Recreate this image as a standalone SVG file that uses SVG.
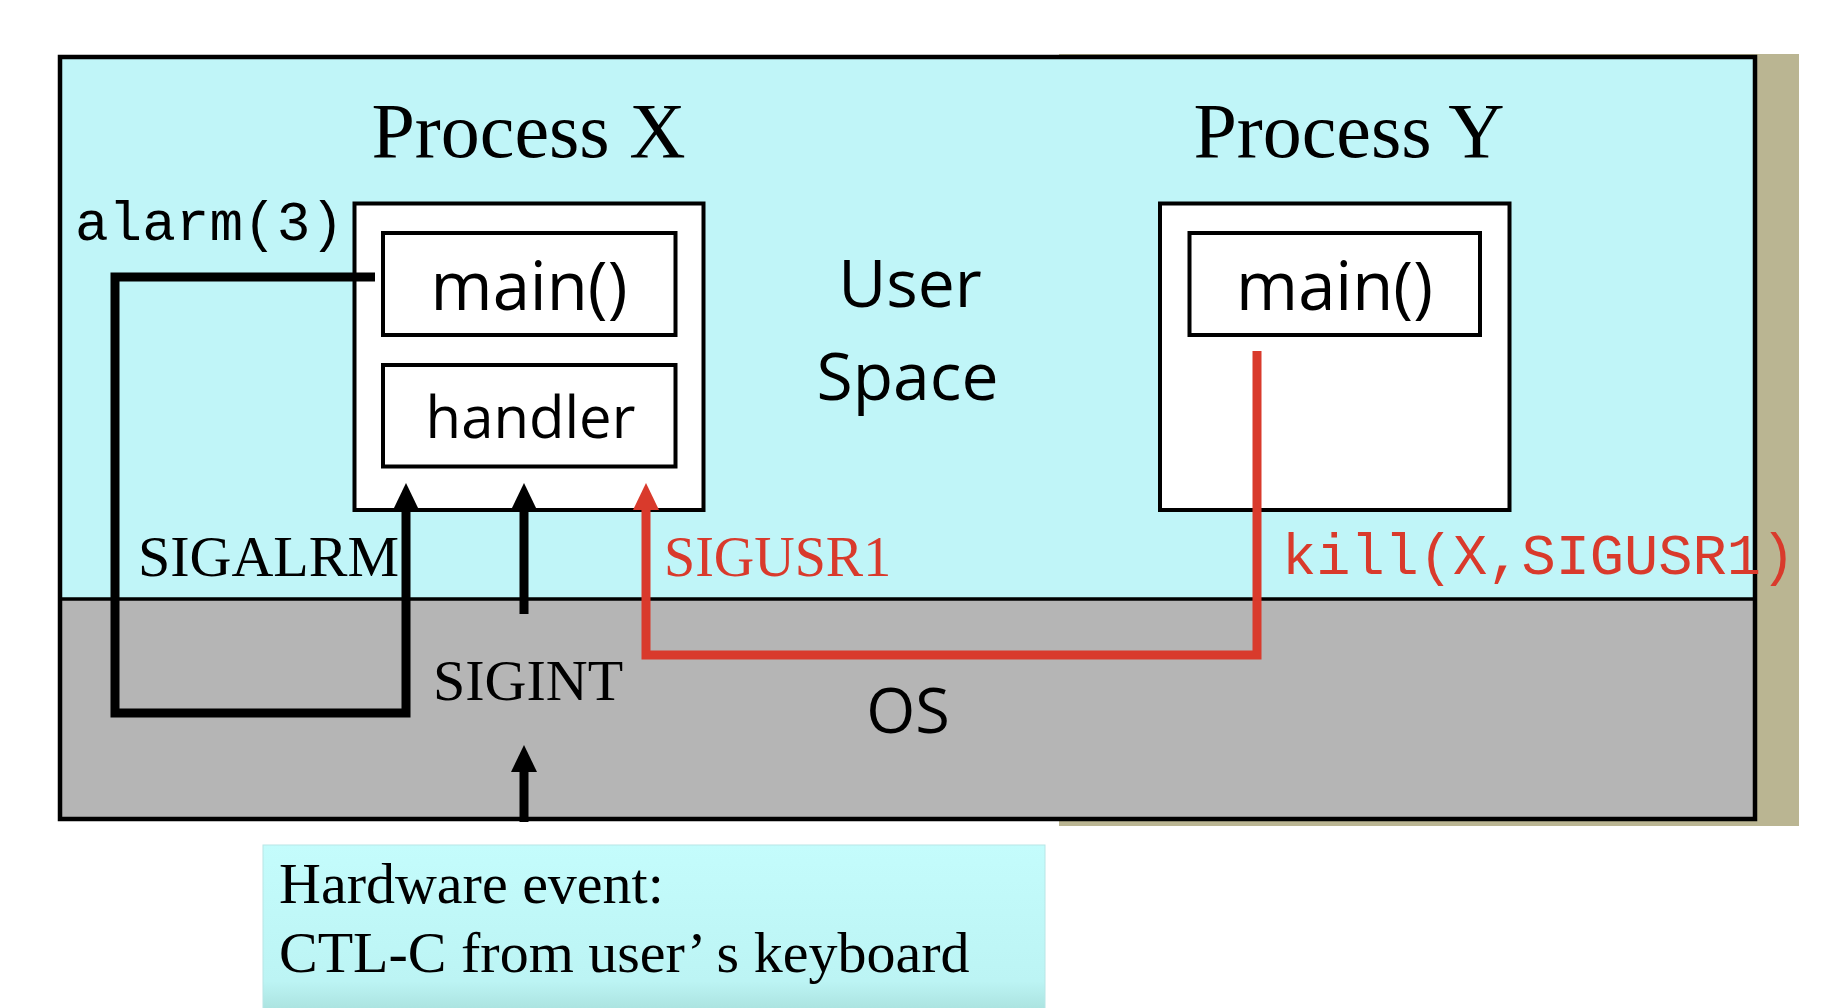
<svg xmlns="http://www.w3.org/2000/svg" width="1848" height="1008" viewBox="0 0 1848 1008">
<style>
.serif{font-family:"Liberation Serif","Times New Roman",serif;fill:#000}
.sans{font-family:"Open Sans","Noto Sans","Liberation Sans",sans-serif;fill:#000}
.mono{font-family:"Liberation Mono","Courier New",monospace}
.box{fill:#fff;stroke:#000;stroke-width:4}
.red{fill:#d93a2c}
.wire{fill:none;stroke:#000;stroke-width:9}
.wire-red{fill:none;stroke:#d93a2c;stroke-width:9}
</style>
<defs>
<marker id="ah" markerUnits="userSpaceOnUse" markerWidth="28" markerHeight="28" refX="0" refY="13" orient="auto" viewBox="0 0 28 26">
<path d="M0,0 L27,13 L0,26 z" fill="#000"/>
</marker>
<marker id="ahr" markerUnits="userSpaceOnUse" markerWidth="28" markerHeight="28" refX="0" refY="13" orient="auto" viewBox="0 0 28 26">
<path d="M0,0 L27,13 L0,26 z" fill="#d93a2c"/>
</marker>
<linearGradient id="hwg" x1="0" y1="0" x2="0" y2="1">
<stop offset="0" stop-color="#c4fcfc"/>
<stop offset="0.8" stop-color="#bcf4f4"/>
<stop offset="1" stop-color="#a8e0dc"/>
</linearGradient>
</defs>
<rect width="1848" height="1008" fill="#fff"/>
<g id="frame">
<rect x="1059" y="54" width="740" height="772" fill="#bab592"/>
<rect x="60" y="57" width="1695" height="542" fill="#c0f5f8"/>
<rect x="60" y="599" width="1695" height="220" fill="#b5b5b5"/>
<rect x="60" y="57" width="1695" height="762" fill="none" stroke="#000" stroke-width="4.5"/>
<line x1="60" y1="599" x2="1755" y2="599" stroke="#000" stroke-width="3.5"/>
<text class="sans" x="910" y="307" font-size="66" text-anchor="middle">User</text>
<text class="sans" x="907.5" y="400" font-size="66" text-anchor="middle">Space</text>
<text class="sans" x="908" y="733" font-size="63" text-anchor="middle">OS</text>
</g>
<g id="process-x">
<rect class="box" x="354.5" y="203.5" width="349" height="306.5"/>
<text class="serif" x="528.5" y="157" font-size="78" text-anchor="middle">Process X</text>
</g>
<g id="main-x">
<rect class="box" x="383" y="233" width="292.5" height="102"/>
<text class="sans" x="529" y="310" font-size="67" text-anchor="middle">main()</text>
</g>
<g id="handler">
<rect class="box" x="383" y="365" width="292.5" height="101.5"/>
<text class="sans" x="530.5" y="438" font-size="58" text-anchor="middle">handler</text>
</g>
<g id="process-y">
<rect class="box" x="1160" y="203.5" width="349.5" height="306.5"/>
<text class="serif" x="1349" y="157" font-size="78" text-anchor="middle">Process Y</text>
</g>
<g id="main-y">
<rect class="box" x="1189.5" y="233" width="290.5" height="102"/>
<text class="sans" x="1334.5" y="310" font-size="67" text-anchor="middle">main()</text>
</g>
<g id="hardware-event">
<rect x="263" y="845" width="782" height="170" fill="url(#hwg)" stroke="#b8e6e6" stroke-width="1"/>
<text class="serif" x="279" y="903" font-size="58">Hardware event:</text>
<text class="serif" x="279" y="972" font-size="58">CTL-C from user’ s keyboard</text>
</g>
<g id="connectors">
<path class="wire" d="M375,277 H115 V713 H406 V510" marker-end="url(#ah)"/>
<path class="wire" d="M524,614 V510" marker-end="url(#ah)"/>
<path class="wire" d="M524,822 V772" marker-end="url(#ah)"/>
<path class="wire-red" d="M1257,351 V655 H646 V510" marker-end="url(#ahr)"/>
</g>
<g id="labels">
<text class="mono" x="75" y="240" font-size="56" fill="#000">alarm(3)</text>
<text class="serif" x="138" y="576" font-size="58">SIGALRM</text>
<text class="serif red" x="664" y="576" font-size="56" style="fill:#d93a2c">SIGUSR1</text>
<text class="serif" x="433" y="700" font-size="58">SIGINT</text>
<text class="mono red" x="1282" y="574" font-size="57">kill(X,SIGUSR1)</text>
</g>
</svg>
